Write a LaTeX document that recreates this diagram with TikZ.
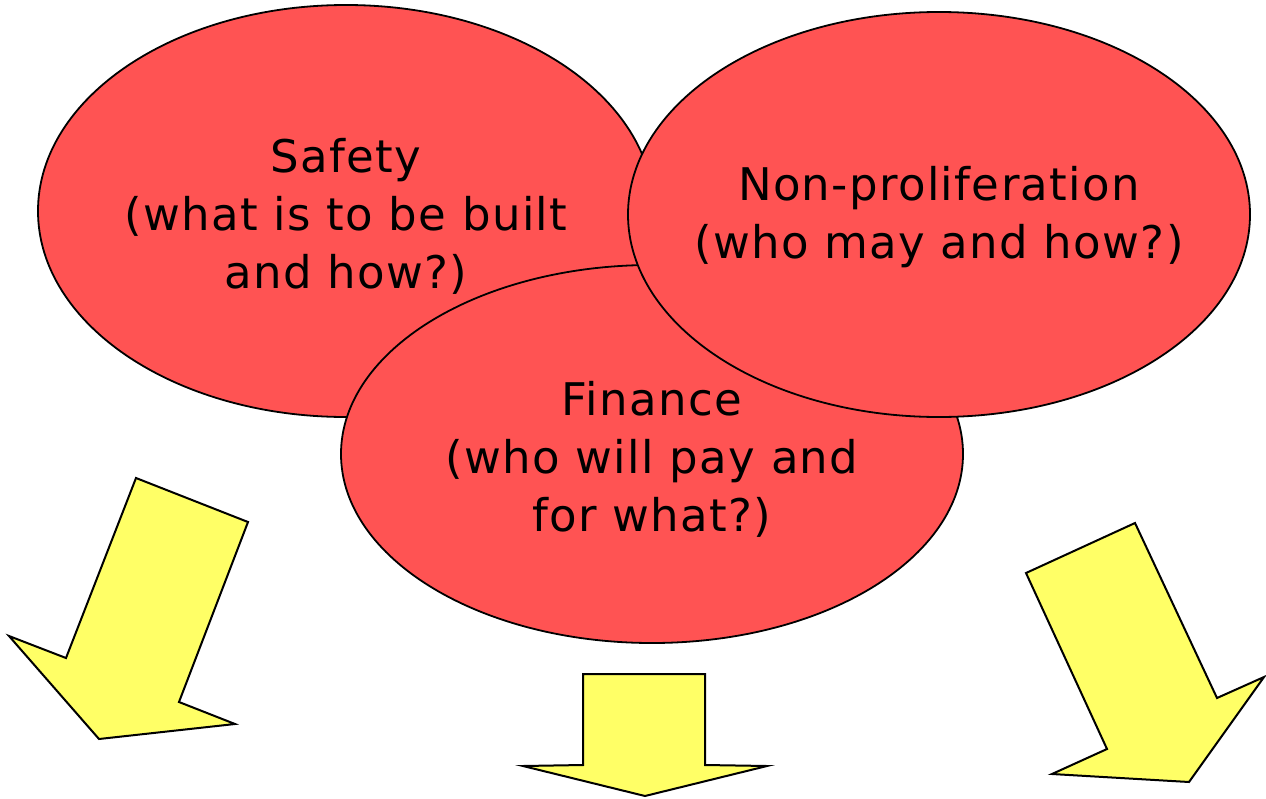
\documentclass[tikz,border=0pt]{standalone}
\usepackage{fontspec}
\setmainfont[LetterSpace=3]{DejaVu Sans}
\usetikzlibrary{shapes.geometric}
\definecolor{bubble}{HTML}{FF5353}
\definecolor{arrowyellow}{HTML}{FFFF66}
\begin{document}
\begin{tikzpicture}[x=1pt,y=-1pt,
  bubble/.style={ellipse,draw=black,line width=1.8pt,fill=bubble,inner sep=0pt},
  bubbletext/.style={align=center,inner sep=0pt,font=\fontsize{45}{58}\selectfont},
  blockarrow/.style={draw=black,line width=2pt,fill=arrowyellow,line join=miter}]
\useasboundingbox (0,0) rectangle (1266,798);
\node[bubble,minimum width=616,minimum height=412] (safety) at (346,211) {};
\node[bubbletext] (safetytext) at ([yshift=-5pt]safety.center)
  {Safety\\(what is to be built\\and how?)};
\node[bubble,minimum width=622,minimum height=378] (finance) at (652,454) {};
\node[bubbletext] (financetext) at ([yshift=-5pt]finance.center)
  {Finance\\(who will pay and\\for what?)};
\node[bubble,minimum width=622,minimum height=405] (nonprolif) at (939,214.5) {};
\node[bubbletext] (nonproliftext) at ([yshift=-3pt]nonprolif.center)
  {Non-proliferation\\(who may and how?)};
\draw[blockarrow] (136,478) -- (248,522) -- (179,702) -- (235,724) -- (99,739) -- (9,636) -- (66,658) -- cycle;
\draw[blockarrow] (583,674) -- (705,674) -- (705,765) -- (767,766) -- (645,796) -- (523,766) -- (583,765) -- cycle;
\draw[blockarrow] (1026,573) -- (1135,523) -- (1217,698) -- (1264,677) -- (1189,782) -- (1052,774) -- (1107,749) -- cycle;
\end{tikzpicture}
\end{document}
